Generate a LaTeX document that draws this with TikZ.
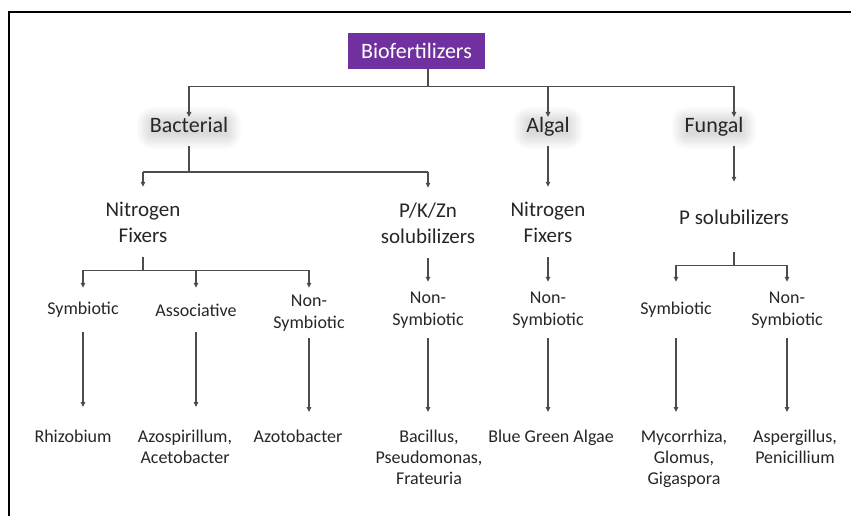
\documentclass[tikz,border=0pt]{standalone}
\usepackage{fontspec}
\setmainfont{Carlito}
\usetikzlibrary{arrows.meta,shadows.blur}
\definecolor{biopurple}{HTML}{7030A0}
\begin{document}
\begin{tikzpicture}
    [%%%%%%%%%%%%%%%%%%%%%%%%%%%%%%
        x=1pt, y=-1pt,
        every node/.style={text=black!85, align=center},
        root/.style={fill=biopurple, text=white, minimum width=137pt, minimum height=36pt, inner sep=0pt, font=\fontsize{22}{26}\selectfont},
        group/.style={font=\fontsize{22}{26}\selectfont, text height=15pt, text depth=5pt, inner xsep=6pt, inner ysep=4pt, outer ysep=4pt, rounded corners=8pt,
            blur shadow={shadow xshift=0pt, shadow yshift=0pt, shadow blur radius=8pt, shadow blur steps=8, shadow opacity=14}},
        kind/.style={font=\fontsize{21}{26}\selectfont, minimum height=70pt, inner sep=1pt},
        mode/.style={font=\fontsize{18}{22}\selectfont, minimum height=56pt, inner sep=1pt},
        genus/.style={font=\fontsize{18}{21}\selectfont, anchor=north, inner xsep=2pt, inner ysep=18pt},
        link/.style={draw=black!70, line width=1.1pt},
        arr/.style={link, -{Triangle[length=5pt,width=4.5pt]}},
        into/.style={arr, shorten >=-7pt},
    ]%%%%%%%%%%%%%%%%%%%%%%%%%%%%%%
    \useasboundingbox (0,0) rectangle (851,516);
    \draw[line width=1.6pt] (851,12) -- (9,12) -- (9,516);

    \node[root] (bio) at (416.5,51) {Biofertilizers};

    \node[group] (bact) at (189,128) {Bacterial};
    \node[group] (algal) at (548,128) {Algal};
    \node[group] (fung) at (714,128) {Fungal};

    \node[kind] (nf1) at (143,222) {Nitrogen\\Fixers};
    \node[kind] (pkz) at (428,223) {P/K/Zn\\solubilizers};
    \node[kind] (nf2) at (548,222) {Nitrogen\\Fixers};
    \node[kind] (ps) at (734,217) {P solubilizers};

    \node[mode, minimum height=44pt] (sym1) at (83,310) {Symbiotic};
    \node[mode, minimum height=44pt] (asc) at (196,310) {Associative};
    \node[mode, minimum height=50pt] (ns1) at (309,313) {Non-\\Symbiotic};
    \node[mode] (ns2) at (428,310) {Non-\\Symbiotic};
    \node[mode] (ns3) at (548,310) {Non-\\Symbiotic};
    \node[mode] (sym2) at (676,310) {Symbiotic};
    \node[mode] (ns4) at (787,310) {Non-\\Symbiotic};

    \node[genus] (rhiz) at (73,412) {Rhizobium};
    \node[genus] (azos) at (185,412) {Azospirillum,\\Acetobacter};
    \node[genus] (azot) at (298,412) {Azotobacter};
    \node[genus] (bac) at (429,412) {Bacillus,\\Pseudomonas,\\Frateuria};
    \node[genus] (bga) at (551,412) {Blue Green Algae};
    \node[genus] (myc) at (684,412) {Mycorrhiza,\\Glomus,\\Gigaspora};
    \node[genus] (asp) at (795,412) {Aspergillus,\\Penicillium};

    % biofertilizers -> groups
    \draw[link] (bio.south -| pkz) -- ++(0,17) coordinate (j1);
    \draw[link] (j1 -| bact) -- (j1 -| ps);
    \draw[into] (j1 -| bact) -- (bact.north);
    \draw[into] (j1 -| algal) -- (algal.north);
    \draw[into] (j1 -| ps) -- (ps |- fung.north);

    % groups -> kinds
    \draw[link] (bact.south) -- ++(0,26) coordinate (j2);
    \draw[link] (j2 -| nf1) -- (j2 -| pkz);
    \draw[arr] (j2 -| nf1) -- (nf1.north);
    \draw[arr] (j2 -| pkz) -- (pkz.north);
    \draw[arr] (algal.south) -- (nf2.north);
    \draw[arr] (ps |- fung.south) -- (ps.north);

    % kinds -> modes
    \draw[link] (nf1.south) -- ++(0,13) coordinate (j3);
    \draw[link] (j3 -| sym1) -- (j3 -| ns1);
    \draw[arr] (j3 -| sym1) -- (sym1.north);
    \draw[arr] (j3 -| asc) -- (asc.north);
    \draw[arr] (j3 -| ns1) -- (ns1.north);
    \draw[arr] (pkz.south) -- (ns2.north);
    \draw[arr] (nf2.south) -- (ns3.north);
    \draw[link] (ps.south) -- ++(0,13) coordinate (j4);
    \draw[link] (j4 -| sym2) -- (j4 -| ns4);
    \draw[arr] (j4 -| sym2) -- (sym2.north);
    \draw[arr] (j4 -| ns4) -- (ns4.north);

    % modes -> genera
    \draw[arr, shorten >=5pt] (sym1.south) -- (sym1.south |- rhiz.north);
    \draw[arr, shorten >=5pt] (asc.south) -- (asc.south |- azos.north);
    \draw[arr] (ns1.south) -- (ns1.south |- azot.north);
    \draw[arr] (ns2.south) -- (ns2.south |- bac.north);
    \draw[arr] (ns3.south) -- (ns3.south |- bga.north);
    \draw[arr] (sym2.south) -- (sym2.south |- myc.north);
    \draw[arr] (ns4.south) -- (ns4.south |- asp.north);
\end{tikzpicture}
\end{document}
